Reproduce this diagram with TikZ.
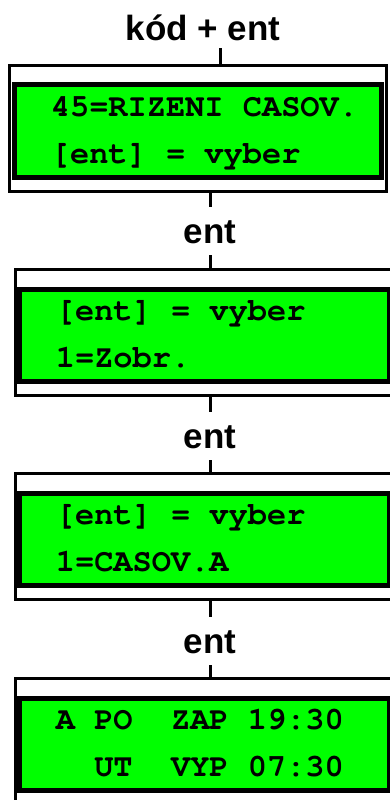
\documentclass[tikz,border=0pt]{standalone}
\usepackage[T1]{fontenc}
\usepackage{fontspec}
\setmainfont{Liberation Sans}
\usetikzlibrary{positioning}
\definecolor{lcdgreen}{RGB}{0,255,0}
\newcommand{\lcdtext}{\fontencoding{T1}\fontfamily{pcr}\fontseries{b}\fontsize{16}{16}\selectfont}
\newcommand{\keytext}{\bfseries\fontsize{17.5}{17.5}\selectfont}

\begin{document}
\begin{tikzpicture}[x=0.5pt, y=-0.5pt,
    lcdframe/.style={draw, line width=1.5pt, fill=white, inner sep=0pt},
    lcdscreen/.style={draw, line width=2.5pt, fill=lcdgreen, inner sep=0pt},
    lcdline/.style={anchor=base west, inner sep=0pt, font=\lcdtext},
    keylabel/.style={anchor=base, inner sep=0pt, text height=17.75pt, text depth=6pt, font=\keytext},
    link/.style={line width=1.5pt}]
    \useasboundingbox (0,0) rectangle (390,800);
    \fill[white] (0,0) rectangle (390,800);

    % first screen
    \node[keylabel, text depth=4pt] (lab1) at (203,40) {kód + ent};
    \node[lcdframe, minimum width=188.5pt, minimum height=63.25pt] (frame1) at (198,128.25) {};
    \node[lcdscreen, minimum width=183.25pt, minimum height=46.5pt] (screen1) at (197.75,131) {};
    \node[lcdline] (line1a) at (50.5,116) {45=RIZENI CASOV.};
    \node[lcdline] (line1b) at (50.5,163) {[ent] = vyber};

    % second screen
    \node[keylabel] (lab2) at (210,243) {ent};
    \node[lcdframe, minimum width=192.5pt, minimum height=63pt] (frame2) at (207.5,332.5) {};
    \node[lcdscreen, minimum width=184.75pt, minimum height=46.25pt] (screen2) at (204.25,335.25) {};
    \node[lcdline] (line2a) at (55.5,320) {[ent] = vyber};
    \node[lcdline] (line2b) at (55.5,367.5) {1=Zobr.};

    % third screen
    \node[keylabel] (lab3) at (210,448) {ent};
    \node[lcdframe, minimum width=192.5pt, minimum height=63pt] (frame3) at (207.5,536.5) {};
    \node[lcdscreen, minimum width=184.75pt, minimum height=46.25pt] (screen3) at (204.25,539.25) {};
    \node[lcdline] (line3a) at (55.5,524) {[ent] = vyber};
    \node[lcdline] (line3b) at (55.5,571.5) {1=CASOV.A};

    % fourth screen
    \node[keylabel] (lab4) at (210,653) {ent};
    \node[lcdframe, minimum width=192.5pt, minimum height=63pt] (frame4) at (207.5,741.5) {};
    \node[lcdscreen, minimum width=184.75pt, minimum height=46.25pt] (screen4) at (204.25,744.25) {};
    \node[lcdline] (line4a) at (55.5,729) {A~PO~~ZAP~19:30};
    \node[lcdline] (line4b) at (55.5,776.5) {~~UT~~VYP~07:30};

    % key presses
    \coordinate (c1) at (220,0);
    \draw[link] (lab1.south -| c1) -- (frame1.north -| c1);
    \draw[link] (frame1.south -| lab2.north) -- (lab2.north);
    \draw[link] (lab2.south) -- (lab2.south |- frame2.north);
    \draw[link] (frame2.south -| lab3.north) -- (lab3.north);
    \draw[link] (lab3.south) -- (lab3.south |- frame3.north);
    \draw[link] (frame3.south -| lab4.north) -- (lab4.north);
    \draw[link] (lab4.south) -- (lab4.south |- frame4.north);
\end{tikzpicture}
\end{document}
